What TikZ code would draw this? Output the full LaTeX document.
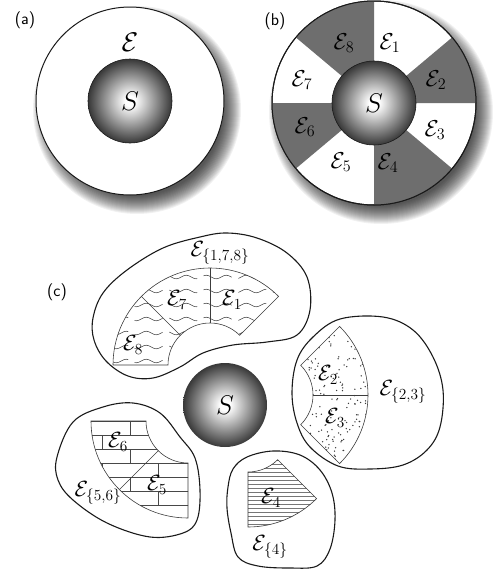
\RequirePackage{fix-cm}
\documentclass[tikz,border=0pt]{standalone}
\usepackage{amsmath,amssymb}
\usepackage{xcolor}
\usepackage{tikz}
\usetikzlibrary{calc,decorations.pathmorphing}
\definecolor{slab}{HTML}{6E6E6E}
\definecolor{ink}{HTML}{1A1A1A}
\pgfdeclareradialshading{globe}{\pgfpoint{0bp}{0bp}}{color(0bp)=(white); color(3bp)=(white); color(25bp)=(black!78); color(50bp)=(black!78)}
\tikzset{
  rim/.style={draw=ink,line width=1pt,fill=white},
  ball/.style={shading=globe,draw=ink,line width=0.6pt},
  blob/.style={draw=ink,line width=1.1pt},
  part/.style={draw=ink!85,line width=0.6pt},
  wave/.style={decorate,decoration={snake,amplitude=1.8pt,segment length=20pt},draw=ink!80,line width=0.55pt,dash pattern=on 30pt off 7pt},
  hatch/.style={draw=ink!60,line width=0.45pt},
  lbl/.style={font=\fontsize{23}{23}\selectfont,inner sep=0pt},
  sml/.style={font=\fontsize{22}{22}\selectfont,inner sep=0pt},
  big/.style={font=\fontsize{27}{27}\selectfont,inner sep=0pt},
  tag/.style={font=\sffamily\fontsize{17}{17}\selectfont,inner sep=0pt},
  ringpart/.style n args={3}{insert path={($(#1)+(#2:97)$) arc[start angle=#2,end angle=#3,radius=97] -- ($(#1)+(#3:42)$) arc[start angle=#3,end angle=#2,radius=42] -- cycle}}
}

\begin{document}
\begin{tikzpicture}[x=1pt,y=-1pt]
\useasboundingbox (0,0) rectangle (497,571);
% (a)
\coordinate (A) at (130,101);
\foreach \k in {0,...,18}
  \fill[black,opacity=0.055] ($(A)+(7,9)$) circle[radius=86+\k];
\draw[rim] (A) circle[radius=94];
\path[ball] (A) circle[radius=42];
\node[big] (ea) at (130,42) {$\mathcal{E}$};
\node[big] (sa) at (A) {$S$};
\node[tag] (ta) at (25,20) {(a)};
% (b)
\coordinate (B) at (374,103);
\foreach \k in {0,...,18}
  \fill[black,opacity=0.055] ($(B)+(7,9)$) circle[radius=94+\k];
\draw[rim] (B) circle[radius=102];
\foreach \a/\b in {0/-40,40/90,140/180,-90/-140}
  \fill[slab] (B) -- ($(B)+(\a:102)$) arc[start angle=\a,end angle=\b,radius=102] -- cycle;
\draw[rim,fill=none] (B) circle[radius=102];
\path[ball] (B) circle[radius=42];
\node[big] (sb) at (B) {$S$};
\node[tag] (tb) at (275,21) {(b)};
\foreach \i/\x/\y in {1/390/43,2/436/80,3/435/130,4/388/163,5/341/162,6/305/127,7/302/80,8/344/43}
  \node[lbl] (eb\i) at (\x,\y) {$\mathcal{E}_{\i}$};
% (c)
\node[tag] (tc) at (57,292) {(c)};
\draw[blob] plot[smooth cycle,tension=0.6] coordinates {(227,233) (257,238) (287,253) (307,277) (310,310) (297,335) (267,342) (233,345) (203,353) (180,367) (153,378) (128,376) (106,361) (94,340) (93,318) (103,293) (127,270) (163,248) (200,237)};
\coordinate (P) at (210,365);
\begin{scope}
\clip[ringpart={P}{-45}{-180}];
\foreach \yy in {277,291,...,365}
  \draw[wave] (100,\yy) -- (300,\yy);
\end{scope}
\draw[part,ringpart={P}{-45}{-180}];
\draw[part] ($(P)+(-90:42)$) -- ($(P)+(-90:97)$);
\draw[part] ($(P)+(-135:42)$) -- ($(P)+(-135:97)$);
\node[sml] (e178) at (220,253) {$\mathcal{E}_{\{1,7,8\}}$};
\node[sml] (ec7) at (177,300) {$\mathcal{E}_7$};
\node[sml] (ec1) at (232,300) {$\mathcal{E}_1$};
\node[sml] (ec8) at (133,345) {$\mathcal{E}_8$};
% {2,3}
\draw[blob] plot[smooth cycle,tension=0.6] coordinates {(292,393) (297,360) (313,337) (340,319) (383,317) (413,330) (433,357) (443,390) (440,427) (427,450) (403,465) (370,469) (338,466) (310,447) (297,423)};
\coordinate (R) at (271,395);
\begin{scope}
\clip[ringpart={R}{45}{-45}];
\pgfmathsetseed{17}
\foreach \i in {1,...,230}
  \fill[ink!85] ({297+75*rnd},{320+150*rnd}) circle[radius=0.75];
\end{scope}
\draw[part,ringpart={R}{45}{-45}];
\draw[part] ($(R)+(0:42)$) -- ($(R)+(0:97)$);
\node[sml] (e23) at (403,392) {$\mathcal{E}_{\{2,3\}}$};
\node[sml] (ec2) at (328,375) {$\mathcal{E}_2$};
\node[sml] (ec3) at (335,418) {$\mathcal{E}_3$};
% {4}
\draw[blob] plot[smooth cycle,tension=0.6] coordinates {(228,487) (233,469) (247,457) (273,451) (300,455) (320,470) (332,493) (335,520) (330,549) (317,566) (290,568) (258,566) (238,557) (231,533) (227,508)};
\coordinate (T) at (248,430);
\begin{scope}
\clip[ringpart={T}{90}{45}];
\foreach \yy in {456,460,...,532}
  \draw[hatch] (240,\yy) -- (325,\yy);
\end{scope}
\draw[part,ringpart={T}{90}{45}];
\node[sml] (ec4) at (271,498) {$\mathcal{E}_4$};
\node[sml] (e4) at (270,547) {$\mathcal{E}_{\{4\}}$};
% {5,6}
\draw[blob] plot[smooth cycle,tension=0.6] coordinates {(57,457) (73,422) (103,407) (133,403) (160,413) (180,437) (195,458) (200,490) (197,520) (183,533) (150,537) (107,523) (73,500) (58,480)};
\coordinate (Q) at (188,421);
\begin{scope}
\clip[ringpart={Q}{180}{90}];
\foreach \yy in {421,435,...,519}
  \draw[hatch,draw=ink!80] (85,\yy) -- (195,\yy);
\foreach \yy in {421,449,...,505}
  \draw[hatch,draw=ink!80] (130,\yy) -- ++(0,14);
\foreach \yy in {435,463,...,519}
  \draw[hatch,draw=ink!80] (102,\yy) -- ++(0,14) (158,\yy) -- ++(0,14);
\end{scope}
\draw[part,ringpart={Q}{180}{90}];
\draw[part] ($(Q)+(135:42)$) -- ($(Q)+(135:97)$);
\node[sml] (e56) at (98,493) {$\mathcal{E}_{\{5,6\}}$};
\node[sml] (ec6) at (118,442) {$\mathcal{E}_6$};
\node[sml] (ec5) at (157,485) {$\mathcal{E}_5$};
% S
\coordinate (C) at (225,405);
\shade[shading=globe] (C) circle[radius=42];
\node[big] (sc) at (C) {$S$};
\end{tikzpicture}
\end{document}
